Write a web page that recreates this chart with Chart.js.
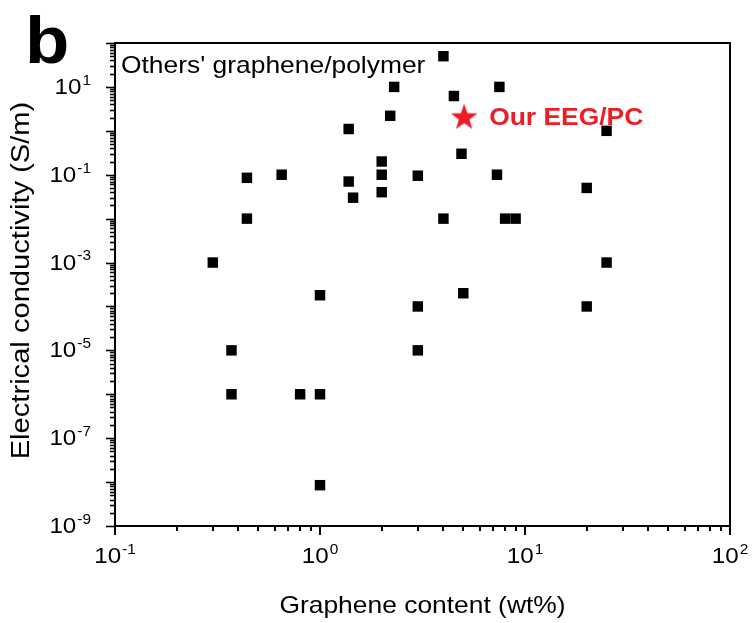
<!DOCTYPE html>
<html>
<head>
<meta charset="utf-8">
<script src="https://cdn.jsdelivr.net/npm/chart.js@4.4.1/dist/chart.umd.min.js"></script>
<style>
  html, body { margin: 0; padding: 0; background: #fff; }
  #wrap { width: 754px; height: 623px; position: relative; }
</style>
</head>
<body>
<div id="wrap"><canvas id="condChart"></canvas></div>
<script>
// graphene content (wt%) vs electrical conductivity (S/m) for reported composites
const othersContent = [2.3, 2.2, 1.38, 0.44, 0.65, 1.38, 1.45, 2.0, 2.0, 2.0, 3.0, 0.44, 0.3,
  4.0, 7.5, 4.5, 25, 4.9, 7.3, 20, 4.0, 8.0, 9.0, 25,
  1.0, 3.0, 0.37, 3.0, 0.37, 0.8, 1.0, 1.0, 5.0, 20];
const othersConductivity = [10, 2.2, 1.1, 0.085, 0.1, 0.07, 0.03, 0.2, 0.1, 0.04, 0.095, 0.01, 0.001,
  50, 10, 6.2, 1, 0.3, 0.1, 0.05, 0.01, 0.01, 0.01, 0.001,
  1.8e-4, 1e-4, 1e-5, 1e-5, 1e-6, 1e-6, 1e-6, 8.5e-9, 2e-4, 1e-4];

// this work
const oursContent = [5.05];
const oursConductivity = [2.1];

// decade exponents that get a "10^n" label
const xTickExps = [-1, 0, 1, 2];
const yTickExps = [-9, -7, -5, -3, -1, 1];

const RED = '#ee1c24';
const FONT = '"Liberation Sans", Arial, sans-serif';
const STRETCH = 1.1;

// filled five-point star used as the point style
function makeStar(size, color) {
  const c = document.createElement('canvas');
  c.width = size; c.height = size;
  const g = c.getContext('2d');
  const cx = size / 2, cy = size / 2 + 1;
  const ro = size / 2, ri = ro * 0.4;
  g.beginPath();
  for (let i = 0; i < 10; i++) {
    const r = i % 2 ? ri : ro;
    const a = -Math.PI / 2 + i * Math.PI / 5;
    g.lineTo(cx + r * Math.cos(a), cy + r * Math.sin(a));
  }
  g.closePath();
  g.fillStyle = color;
  g.fill();
  return c;
}

function toPoints(xs, ys) {
  return xs.map((x, i) => ({ x: x, y: ys[i] }));
}

// text with a slight horizontal stretch
function stretchedText(ctx, text, x, y, align) {
  ctx.save();
  ctx.translate(x, y);
  ctx.scale(STRETCH, 1);
  ctx.textAlign = align;
  ctx.fillText(text, 0, 0);
  ctx.restore();
}

// "10" with a raised exponent; anchor is the label's centre or right edge
function powerLabel(ctx, exp, x, y, align) {
  ctx.save();
  ctx.fillStyle = '#000';
  ctx.textBaseline = 'middle';
  ctx.font = '22px ' + FONT;
  const base = ctx.measureText('10').width * STRETCH;
  ctx.font = '14px ' + FONT;
  const sup = ctx.measureText(String(exp)).width * STRETCH;
  const total = base + sup + 1;
  const left = align === 'right' ? x - total : x - total / 2;
  ctx.font = '22px ' + FONT;
  stretchedText(ctx, '10', left, y, 'left');
  ctx.font = '14px ' + FONT;
  stretchedText(ctx, String(exp), left + base + 1, y - 7, 'left');
  ctx.restore();
}

const axesPlugin = {
  id: 'axesPlugin',
  afterDraw(chart) {
    const ctx = chart.ctx;
    const a = chart.chartArea;
    const xs = chart.scales.x, ys = chart.scales.y;
    ctx.save();
    ctx.strokeStyle = '#000';
    ctx.lineWidth = 2;
    ctx.strokeRect(a.left, a.top, a.right - a.left, a.bottom - a.top);

    // x ticks: decades long, 2..9 short, pointing down
    ctx.lineWidth = 2;
    for (let e = -1; e <= 2; e++) {
      for (let m = 1; m <= 9; m++) {
        const v = m * Math.pow(10, e);
        if (v > 100.0001) break;
        const px = Math.round(xs.getPixelForValue(v));
        const len = m === 1 ? 9 : 5;
        ctx.beginPath();
        ctx.moveTo(px, a.bottom);
        ctx.lineTo(px, a.bottom + len);
        ctx.stroke();
      }
    }
    // y ticks, pointing left
    ctx.lineWidth = 1.6;
    for (let e = -9; e <= 2; e++) {
      for (let m = 1; m <= 9; m++) {
        const v = m * Math.pow(10, e);
        if (v > 100.0001) break;
        const py = Math.round(ys.getPixelForValue(v)) + 0.5;
        const len = m === 1 ? 9 : 5;
        ctx.beginPath();
        ctx.moveTo(a.left, py);
        ctx.lineTo(a.left - len, py);
        ctx.stroke();
      }
    }

    xTickExps.forEach(e => powerLabel(ctx, e, xs.getPixelForValue(Math.pow(10, e)), a.bottom + 31, 'center'));
    yTickExps.forEach(e => powerLabel(ctx, e, a.left - 24, ys.getPixelForValue(Math.pow(10, e)) + 1, 'right'));

    // axis titles
    ctx.fillStyle = '#000';
    ctx.font = '24px ' + FONT;
    ctx.textBaseline = 'middle';
    stretchedText(ctx, 'Graphene content (wt%)', (a.left + a.right) / 2, a.bottom + 80, 'center');
    ctx.save();
    ctx.font = '26px ' + FONT;
    ctx.translate(22, (a.top + a.bottom) / 2 - 4);
    ctx.rotate(-Math.PI / 2);
    ctx.scale(1.12, 1);
    ctx.textAlign = 'center';
    ctx.fillText('Electrical conductivity (S/m)', 0, 0);
    ctx.restore();

    // annotations
    ctx.textBaseline = 'alphabetic';
    stretchedText(ctx, "Others' graphene/polymer", a.left + 6, a.top + 30, 'left');
    const sx = xs.getPixelForValue(oursContent[0]);
    const sy = ys.getPixelForValue(oursConductivity[0]);
    ctx.fillStyle = RED;
    ctx.font = 'bold 24px ' + FONT;
    stretchedText(ctx, 'Our EEG/PC', sx + 25, sy + 8, 'left');

    ctx.fillStyle = '#000';
    ctx.font = 'bold 66px ' + FONT;
    stretchedText(ctx, 'b', 25, 63, 'left');
    ctx.restore();
  }
};

new Chart(document.getElementById('condChart'), {
  type: 'scatter',
  data: {
    datasets: [{
      label: "Others' graphene/polymer",
      data: toPoints(othersContent, othersConductivity),
      pointStyle: 'rect',
      pointRadius: 7.4,
      pointHoverRadius: 7.4,
      backgroundColor: '#000',
      borderColor: '#000',
      borderWidth: 0
    }, {
      label: 'Our EEG/PC',
      data: toPoints(oursContent, oursConductivity),
      pointStyle: makeStar(28, RED),
      pointRadius: 14,
      pointHoverRadius: 14
    }]
  },
  options: {
    responsive: true,
    maintainAspectRatio: false,
    animation: false,
    layout: { padding: { top: 43, right: 24, left: 0, bottom: 0 } },
    scales: {
      x: {
        type: 'logarithmic',
        min: 0.1,
        max: 100,
        grid: { display: false },
        border: { display: false },
        ticks: { display: false },
        afterFit(scale) { scale.height = 97; }
      },
      y: {
        type: 'logarithmic',
        min: 1e-9,
        max: 100,
        grid: { display: false },
        border: { display: false },
        ticks: { display: false },
        afterFit(scale) { scale.width = 115; }
      }
    },
    plugins: {
      legend: { display: false },
      tooltip: { enabled: false }
    }
  },
  plugins: [axesPlugin]
});
</script>
</body>
</html>
